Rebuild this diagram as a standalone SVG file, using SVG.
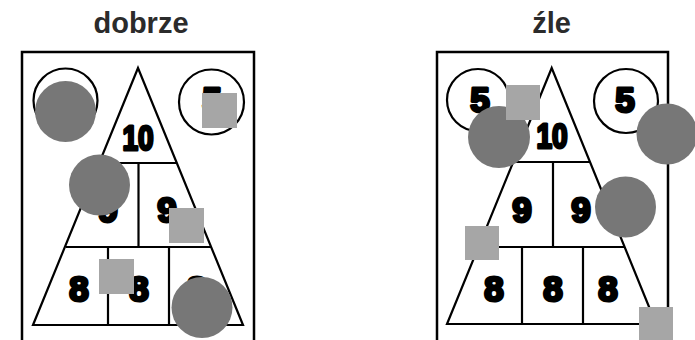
<svg xmlns="http://www.w3.org/2000/svg" width="695" height="340" viewBox="0 0 695 340">
<style>
.title{font-family:"Liberation Sans",Arial,sans-serif;font-weight:bold;font-size:29px;fill:#2b2b2b;text-anchor:middle}
.frame{fill:#fff;stroke:#000;stroke-width:2.5}
.ln{fill:none;stroke:#000;stroke-width:2.2;stroke-linejoin:miter}
.num{font-family:"Liberation Sans",Arial,sans-serif;font-weight:bold;font-size:35px;fill:#000;stroke:#000;stroke-width:3;stroke-linejoin:round;text-anchor:middle}
.dot{fill:#777}
.sq{fill:#a6a6a6}
</style>
<rect width="695" height="340" fill="#fff"/>
<g id="label-dobrze"><text class="title" x="141" y="33">dobrze</text></g>
<g id="label-zle"><text class="title" x="551.5" y="33">źle</text></g>

<g id="panel-dobrze">
<rect class="frame" x="22" y="52" width="232" height="290"/>
<circle class="ln" cx="65.5" cy="100.5" r="32"/>
<circle class="ln" cx="211.5" cy="102" r="32.5"/>
<path class="ln" d="M138,68 L243,325 L33,325 Z"/>
<path class="ln" d="M102,163 H176 M138.5,163 V247 M66,247 H211 M108,247 V325 M169,247 V325"/>
<text class="num" x="66" y="112">5</text>
<text class="num" x="212" y="112">5</text>
<text class="num" transform="translate(138,150) scale(0.8,1)" x="0" y="0">10</text>
<text class="num" x="108" y="222">9</text>
<text class="num" x="167" y="222">9</text>
<text class="num" x="79" y="301">8</text>
<text class="num" x="139" y="301">8</text>
<text class="num" x="197" y="301">8</text>
</g>

<g id="panel-zle">
<rect class="frame" x="437" y="52" width="231" height="290"/>
<circle class="ln" cx="478" cy="100" r="31"/>
<circle class="ln" cx="626" cy="101" r="32"/>
<path class="ln" d="M551.7,68 L656,324 L447,324 Z"/>
<path class="ln" d="M513,162 H590 M553,162 V247 M478,247 H624 M522,247 V324 M583,247 V324"/>
<text class="num" x="480" y="112">5</text>
<text class="num" x="625" y="112">5</text>
<text class="num" transform="translate(552,148) scale(0.8,1)" x="0" y="0">10</text>
<text class="num" x="522" y="222">9</text>
<text class="num" x="581" y="222">9</text>
<text class="num" x="494" y="301">8</text>
<text class="num" x="553" y="301">8</text>
<text class="num" x="608" y="301">8</text>
</g>

<g id="markers-dobrze">
<circle class="dot" cx="65.5" cy="111.5" r="30.5"/>
<circle class="dot" cx="99.5" cy="185" r="30.5"/>
<circle class="dot" cx="202" cy="307.5" r="30.5"/>
<rect class="sq" x="202" y="93" width="35" height="35"/>
<rect class="sq" x="169" y="208" width="35" height="35"/>
<rect class="sq" x="99" y="259" width="35" height="35"/>
</g>

<g id="markers-zle">
<circle class="dot" cx="499" cy="137" r="31"/>
<circle class="dot" cx="667" cy="134" r="30.5"/>
<circle class="dot" cx="625.5" cy="207" r="30.5"/>
<rect class="sq" x="506" y="85" width="34" height="35"/>
<rect class="sq" x="465" y="226" width="34" height="34"/>
<rect class="sq" x="639" y="307" width="34" height="33"/>
</g>
</svg>
